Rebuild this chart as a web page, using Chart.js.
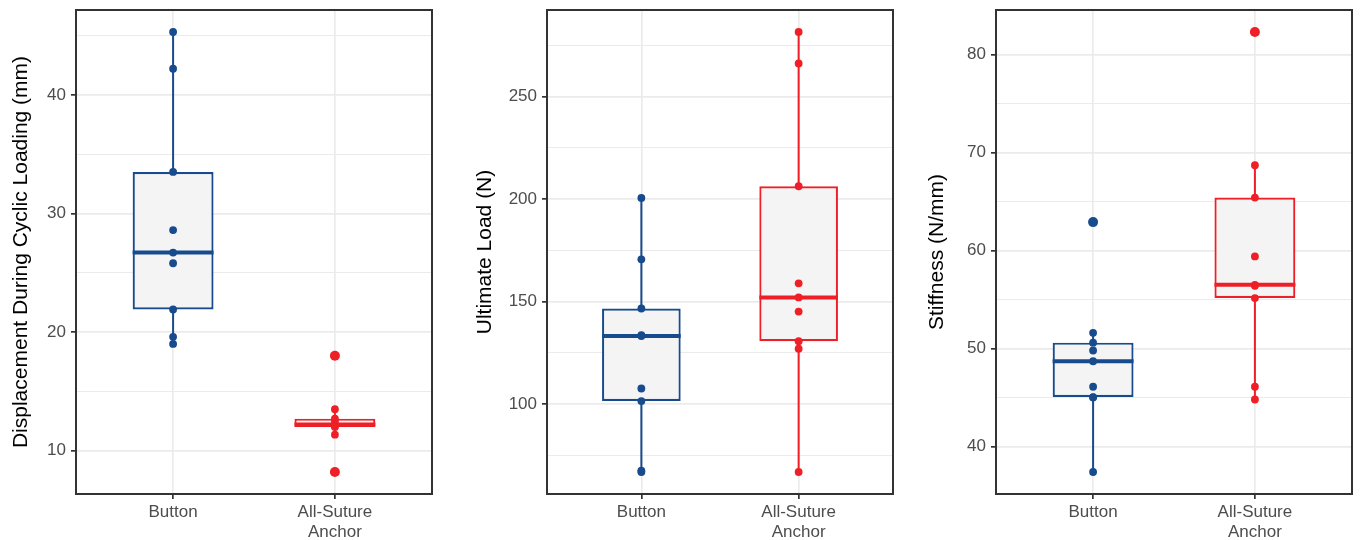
<!DOCTYPE html>
<html>
<head>
<meta charset="utf-8">
<script src="https://cdn.jsdelivr.net/npm/chart.js@4/dist/chart.umd.min.js"></script>
<style>
  body { margin: 0; background: #fff; }
  #wrap { position: relative; width: 1361px; height: 540px; }
  canvas { position: absolute; top: 0; }
</style>
</head>
<body>
<div id="wrap">
  <canvas id="disp" width="440" height="540" style="left:0px"></canvas>
  <canvas id="load" width="436" height="540" style="left:464px"></canvas>
  <canvas id="stiff" width="445" height="540" style="left:916px"></canvas>
</div>
<script>
const categories = ["Button", ["All-Suture", "Anchor"]];
const groupColors = ["#174b8d", "#ee1f26"];

// Displacement during cyclic loading (mm)
const dispButton = [45.3, 42.2, 33.5, 28.6, 26.7, 25.8, 21.9, 19.6, 19.0];
const dispAnchor = [18.0, 13.5, 12.7, 12.5, 12.2, 12.1, 12.0, 11.35, 8.2];
// box stats: [lower whisker, Q1, median, Q3, upper whisker]
const dispButtonBox = [19.0, 21.9, 26.7, 33.5, 45.3];
const dispAnchorBox = [11.35, 12.0, 12.2, 12.7, 13.5];
const dispTicks = [10, 20, 30, 40];
const dispMinor = [15, 25, 35, 45];

// Ultimate load (N)
const loadButton = [200.5, 170.6, 146.6, 133.6, 133.2, 107.6, 101.5, 67.5, 66.9];
const loadAnchor = [281.4, 266.1, 206.2, 158.9, 152.0, 145.1, 130.7, 127.0, 66.9];
const loadButtonBox = [66.9, 101.5, 133.2, 146.6, 200.5];
const loadAnchorBox = [66.9, 130.7, 152.0, 206.2, 281.4];
const loadTicks = [100, 150, 200, 250];
const loadMinor = [75, 125, 175, 225, 275];

// Stiffness (N/mm)
const stiffButton = [62.9, 51.6, 50.6, 49.8, 48.7, 46.1, 45.05, 45.0, 37.4];
const stiffAnchor = [82.3, 68.7, 65.4, 59.4, 56.5, 56.4, 55.15, 46.1, 44.8];
const stiffButtonBox = [37.4, 45.05, 48.7, 50.6, 51.6];
const stiffAnchorBox = [44.8, 55.15, 56.5, 65.4, 68.7];
const stiffTicks = [40, 50, 60, 70, 80];
const stiffMinor = [45, 55, 65, 75];

const FONT = "'Liberation Sans', Arial, Helvetica, sans-serif";
const BOX_WIDTH = 0.5;

// draw the full panel border like theme_bw
const panelBorder = {
  id: "panelBorder",
  afterDatasetsDraw(chart) {
    const { ctx, chartArea: a } = chart;
    ctx.save();
    ctx.strokeStyle = "#333333";
    ctx.lineWidth = 2;
    ctx.strokeRect(a.left, a.top, a.right - a.left, a.bottom - a.top);
    ctx.restore();
  },
};

const makePanel = (id, title, groups, boxes, majors, minors, axisWidth, padRight) => {
  const all = groups.flat();
  const lo = Math.min(...all);
  const hi = Math.max(...all);
  const pad = (hi - lo) * 0.05;

  const datasets = [];
  groups.forEach((pts, i) => {
    const [wLo, q1, med, q3, wHi] = boxes[i];
    const color = groupColors[i];
    // jittered points (width 0), outliers drawn a bit larger
    datasets.push({
      type: "scatter",
      order: 0,
      data: pts.map((v) => ({ x: i, y: v })),
      backgroundColor: color,
      pointBorderWidth: 0,
      pointRadius: (c) => {
        const v = c.raw ? c.raw.y : 0;
        return v < wLo || v > wHi ? 5 : 3.9;
      },
    });
    // median
    datasets.push({
      type: "line",
      order: 1,
      data: [
        { x: i - BOX_WIDTH / 2, y: med },
        { x: i + BOX_WIDTH / 2, y: med },
      ],
      borderColor: color,
      borderWidth: 4,
      pointRadius: 0,
      borderCapStyle: "butt",
    });
    // whiskers
    datasets.push({
      type: "line",
      order: 3,
      data: [
        { x: i, y: wLo },
        { x: i, y: q1 },
        { x: i, y: null },
        { x: i, y: q3 },
        { x: i, y: wHi },
      ],
      borderColor: color,
      borderWidth: 2,
      pointRadius: 0,
      spanGaps: false,
    });
  });
  // boxes
  datasets.push({
    type: "bar",
    order: 2,
    data: boxes.map((b, i) => ({ x: i, y: [b[1], b[3]] })),
    backgroundColor: "#f4f4f4",
    borderColor: groupColors,
    borderWidth: 2.2,
    borderSkipped: false,
    grouped: false,
    barPercentage: BOX_WIDTH,
    categoryPercentage: 1,
  });

  const yTicks = [...majors, ...minors].sort((a, b) => a - b);

  new Chart(document.getElementById(id), {
    type: "scatter",
    data: { datasets },
    plugins: [panelBorder],
    options: {
      responsive: false,
      animation: false,
      events: [],
      layout: { padding: { top: 10, right: padRight, bottom: 0, left: 0 } },
      plugins: { legend: { display: false }, tooltip: { enabled: false } },
      scales: {
        x: {
          type: "linear",
          min: -0.6,
          max: 1.6,
          offset: false,
          afterBuildTicks: (s) => {
            s.ticks = categories.map((c, i) => ({ value: i }));
          },
          afterFit: (s) => {
            s.height = 46;
          },
          border: { display: false },
          grid: {
            offset: false,
            color: "#ebebeb",
            lineWidth: 1.7,
            tickColor: "#333333",
            tickLength: 5,
          },
          ticks: {
            autoSkip: false,
            maxRotation: 0,
            padding: 4,
            color: "#4d4d4d",
            font: { family: FONT, size: 17, lineHeight: 1.15 },
            callback: (v) => categories[v],
          },
        },
        y: {
          type: "linear",
          min: lo - pad,
          max: hi + pad,
          afterBuildTicks: (s) => {
            s.ticks = yTicks.map((v) => ({ value: v }));
          },
          afterFit: (s) => {
            s.width = axisWidth;
            s.paddingTop = 0;
            s.paddingBottom = 0;
          },
          border: { display: false },
          grid: {
            color: "#ebebeb",
            lineWidth: (c) => (majors.includes(c.tick.value) ? 1.7 : 1),
            tickColor: (c) =>
              majors.includes(c.tick.value) ? "#333333" : "rgba(0,0,0,0)",
            tickLength: 5,
          },
          ticks: {
            autoSkip: false,
            padding: 5,
            color: "#4d4d4d",
            font: { family: FONT, size: 17 },
            callback: (v) => (majors.includes(v) ? String(v) : ""),
          },
          title: {
            display: true,
            text: title,
            color: "#000000",
            font: { family: FONT, size: 21 },
            padding: { top: 9, bottom: 0 },
          },
        },
      },
    },
  });
};

makePanel(
  "disp",
  "Displacement During Cyclic Loading (mm)",
  [dispButton, dispAnchor],
  [dispButtonBox, dispAnchorBox],
  dispTicks,
  dispMinor,
  76,
  8
);
makePanel(
  "load",
  "Ultimate Load (N)",
  [loadButton, loadAnchor],
  [loadButtonBox, loadAnchorBox],
  loadTicks,
  loadMinor,
  83,
  7
);
makePanel(
  "stiff",
  "Stiffness (N/mm)",
  [stiffButton, stiffAnchor],
  [stiffButtonBox, stiffAnchorBox],
  stiffTicks,
  stiffMinor,
  80,
  9
);
</script>
</body>
</html>
